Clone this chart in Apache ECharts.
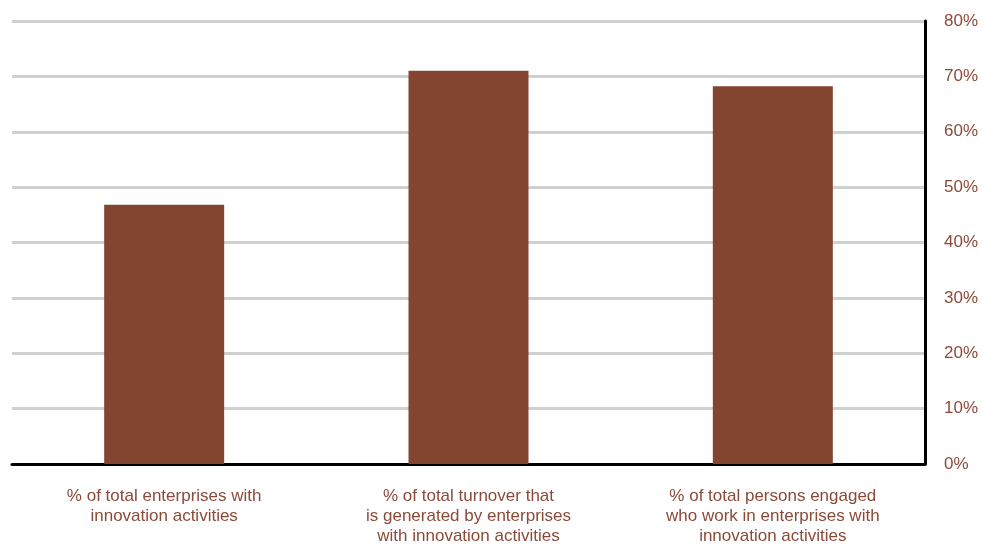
<!DOCTYPE html>
<html><head><meta charset="utf-8">
<script src="https://cdn.jsdelivr.net/npm/echarts@6/dist/echarts.min.js"></script>
<style>html,body{margin:0;padding:0;background:#fff}#c{width:982px;height:544px}</style>
</head><body><div id="c"></div>
<script>
const categories = [
  "% of total enterprises with\ninnovation activities",
  "% of total turnover that\nis generated by enterprises\nwith innovation activities",
  "% of total persons engaged\nwho work in enterprises with\ninnovation activities"
];
const values = [46.8, 71.0, 68.2];
const yTicks = [0, 10, 20, 30, 40, 50, 60, 70, 80];

const chart = echarts.init(document.getElementById('c'), null, {renderer: 'canvas'});
const txt = '#8B4A38';
chart.setOption({
  animation: false,
  grid: {left: 12, right: 57, top: 21, bottom: 80, containLabel: false, outerBoundsMode: 'none'},
  xAxis: {
    type: 'category', data: categories,
    axisLine: {lineStyle: {color: '#000', width: 3}},
    axisTick: {show: false},
    axisLabel: {color: txt, fontFamily: 'Liberation Sans, Arial', fontSize: 17, lineHeight: 20, margin: 22, interval: 0}
  },
  yAxis: {
    type: 'value', position: 'right', min: yTicks[0], max: yTicks[yTicks.length-1], interval: 10,
    axisLine: {show: true, lineStyle: {color: '#000', width: 3}},
    axisTick: {show: false},
    splitLine: {lineStyle: {color: '#D0D0D0', width: 3}},
    axisLabel: {color: txt, fontFamily: 'Liberation Sans, Arial', fontSize: 17, margin: 19, formatter: '{value}%'}
  },
  series: [{
    type: 'bar', data: values, barWidth: 120,
    itemStyle: {color: '#834530'}
  }]
});
</script></body></html>
